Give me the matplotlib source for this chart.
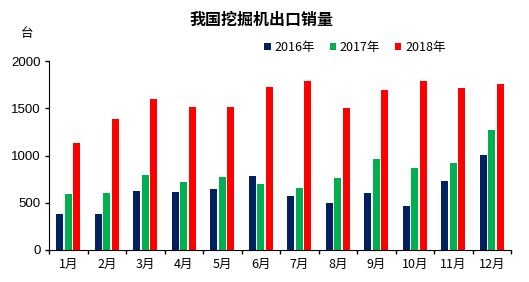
import numpy as np
import matplotlib
matplotlib.use("Agg")
import matplotlib.pyplot as plt
from matplotlib.ticker import FixedLocator

plt.rcParams['font.family'] = ['Noto Sans CJK SC', 'DejaVu Sans']

months = [f"{i}月" for i in range(1, 13)]
years = ["2016年", "2017年", "2018年"]
sales_2016 = [385, 378, 625, 615, 645, 785, 570, 500, 598, 468, 725, 1008]
sales_2017 = [592, 605, 795, 720, 775, 700, 655, 760, 965, 870, 918, 1268]
sales_2018 = [1135, 1385, 1600, 1512, 1518, 1722, 1788, 1502, 1692, 1788, 1718, 1755]
colors = ["#002060", "#00B050", "#FF0000"]

fig = plt.figure(figsize=(5.29, 2.82), dpi=100)
ax = fig.add_axes([49 / 529, 32 / 282, 462 / 529, 189 / 282])

x = np.arange(len(months))
w = 0.18
step = 0.22
for k, (vals, c, lab) in enumerate(zip([sales_2016, sales_2017, sales_2018], colors, years)):
    ax.bar(x + (k - 1) * step, vals, width=w, color=c, label=lab, zorder=2)

ax.set_xlim(-0.5, 11.5)
ax.set_ylim(0, 2000)
ax.set_yticks([0, 500, 1000, 1500, 2000])
ax.set_yticklabels(["0", "500", "1000", "1500", "2000"], family="Liberation Sans", fontsize=9.5)
ax.set_xticks(x)
ax.set_xticklabels(months, fontsize=9)
ax.xaxis.set_minor_locator(FixedLocator(np.arange(-0.5, 12, 1)))
ax.tick_params(axis="x", which="major", length=0, pad=6)
ax.tick_params(axis="x", which="minor", length=3, direction="out", width=1)
ax.tick_params(axis="y", length=3, direction="out", width=1, pad=3)

for s in ["top", "right"]:
    ax.spines[s].set_visible(False)
ax.spines["left"].set_color("#000000")
ax.spines["bottom"].set_color("#000000")

fig.text(0.495, 0.93, "我国挖掘机出口销量", ha="center", va="center",
         fontsize=11.5, fontweight="bold")
fig.text(27 / 529, 1 - 33 / 282, "台", ha="center", va="center", fontsize=9)

ax.legend(loc="center", bbox_to_anchor=(355 / 529, 1 - 47 / 282),
          bbox_transform=fig.transFigure, ncol=3, frameon=False,
          fontsize=9, handlelength=0.5, handleheight=0.5, handletextpad=0.3,
          columnspacing=1.2)

fig.savefig("out.png", dpi=100)
